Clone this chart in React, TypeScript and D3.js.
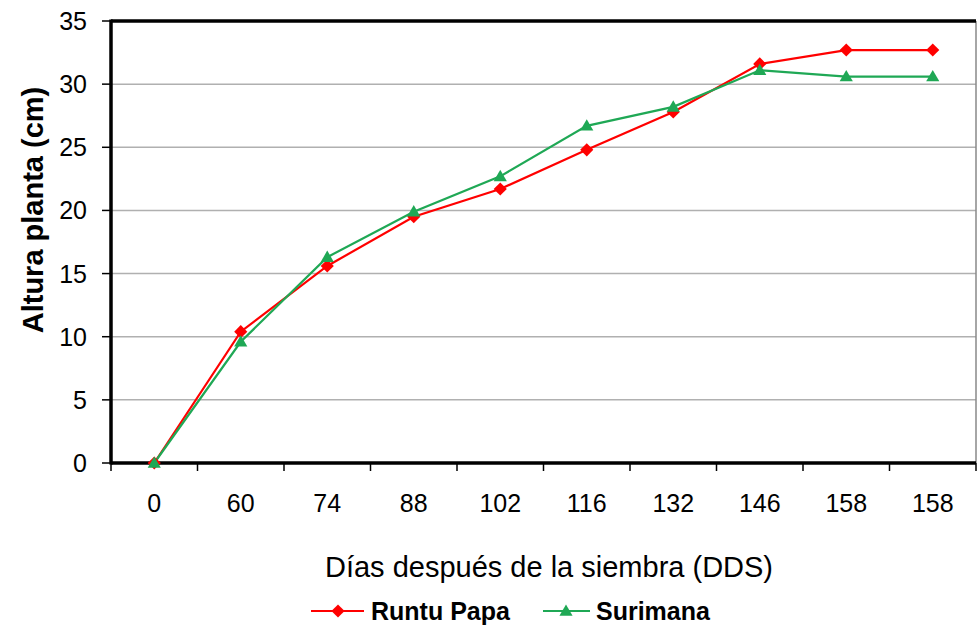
import React from "react";
import * as d3 from "d3";

const categories = ["0", "60", "74", "88", "102", "116", "132", "146", "158", "158"];
const runtuPapa = [0, 10.4, 15.6, 19.5, 21.7, 24.8, 27.8, 31.6, 32.7, 32.7];
const surimana = [0, 9.6, 16.3, 19.9, 22.7, 26.7, 28.2, 31.1, 30.6, 30.6];
const yTicks = [0, 5, 10, 15, 20, 25, 30, 35];
const seriesNames = ["Runtu Papa", "Surimana"];

const W = 979, H = 628;
const left = 111, right = 976, top = 21, bottom = 463;
const font = "Liberation Sans, Arial, sans-serif";

export default function App() {
  const x = d3.scaleBand<number>().domain(d3.range(categories.length)).range([left, right]);
  const y = d3.scaleLinear().domain([0, 35]).range([bottom, top]);
  const cx = (i: number) => (x(i) as number) + x.bandwidth() / 2;
  const line = d3.line<number>().x((_, i) => cx(i)).y((d) => y(d));
  const diamond = d3.symbol().type(d3.symbolDiamond2).size(110)()!;
  const tri = d3.symbol().type(d3.symbolTriangle).size(75)()!;
  const red = "#ff0000";
  const green = "#1fa855";
  const boundaries = d3.range(categories.length + 1).map((i) => left + i * x.bandwidth());
  return (
    <svg width={W} height={H} style={{ position: "absolute", left: 0, top: 0, background: "#fff" }}>
      <rect width={W} height={H} fill="#fff" />
      {yTicks.map((t) => (
        <g key={t}>
          {t > 0 && t < 35 && <line x1={left} x2={right} y1={y(t)} y2={y(t)} stroke="#b0b0b0" strokeWidth={1.5} />}
          <line x1={left - 9} x2={left} y1={y(t)} y2={y(t)} stroke="#000" strokeWidth={1.5} />
          <text x={87} y={y(t) + 9} textAnchor="end" fontFamily={font} fontSize={25} fill="#000">{t}</text>
        </g>
      ))}
      <line x1={right} x2={right} y1={top} y2={bottom} stroke="#888" strokeWidth={1.5} />
      <line x1={left} x2={right} y1={top} y2={top} stroke="#000" strokeWidth={3.5} />
      <line x1={left} x2={left} y1={top - 1.5} y2={bottom + 1.5} stroke="#000" strokeWidth={3.5} />
      <line x1={left} x2={right} y1={bottom} y2={bottom} stroke="#000" strokeWidth={3.5} />
      {boundaries.map((b, i) => (
        <line key={i} x1={b} x2={b} y1={bottom} y2={bottom + 8} stroke="#000" strokeWidth={1.5} />
      ))}
      {categories.map((c, i) => (
        <text key={i} x={cx(i)} y={512} textAnchor="middle" fontFamily={font} fontSize={25} fill="#000">{c}</text>
      ))}
      <path d={line(runtuPapa)!} fill="none" stroke={red} strokeWidth={2.2} />
      <path d={line(surimana)!} fill="none" stroke={green} strokeWidth={2.2} />
      {runtuPapa.map((v, i) => (
        <path key={"r" + i} d={diamond} transform={`translate(${cx(i)},${y(v)})`} fill={red} />
      ))}
      {surimana.map((v, i) => (
        <path key={"s" + i} d={tri} transform={`translate(${cx(i)},${y(v) + 1})`} fill={green} />
      ))}
      <text transform={`translate(43,${210}) rotate(-90)`} textAnchor="middle" fontFamily={font} fontSize={29} fontWeight="bold" fill="#000">Altura planta (cm)</text>
      <text x={549} y={577} textAnchor="middle" fontFamily={font} fontSize={29} fill="#000">Días después de la siembra (DDS)</text>
      <g>
        <line x1={311} x2={364} y1={611} y2={611} stroke={red} strokeWidth={2.2} />
        <path d={diamond} transform="translate(338,611)" fill={red} />
        <text x={371} y={620} fontFamily={font} fontSize={25} fontWeight="bold" fill="#000">{seriesNames[0]}</text>
        <line x1={543} x2={590} y1={611} y2={611} stroke={green} strokeWidth={2.2} />
        <path d={tri} transform="translate(566,612)" fill={green} />
        <text x={596} y={620} fontFamily={font} fontSize={25} fontWeight="bold" fill="#000">{seriesNames[1]}</text>
      </g>
    </svg>
  );
}
